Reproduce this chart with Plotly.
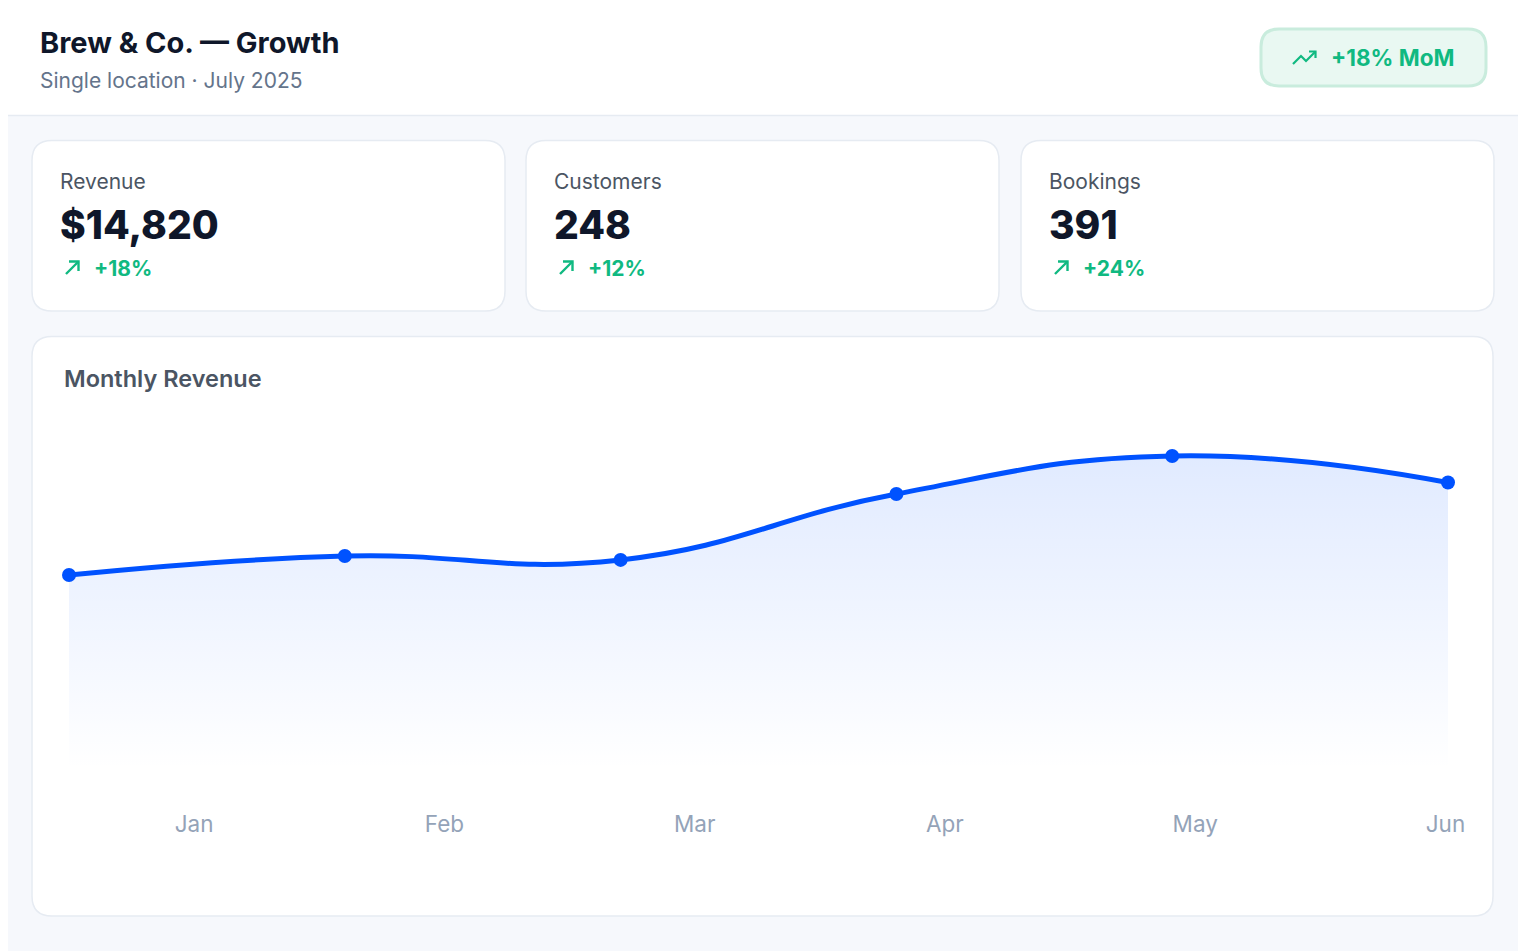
import plotly.graph_objects as go

# data
months = ['Jan', 'Feb', 'Mar', 'Apr', 'May', 'Jun']
revenue = [10050, 11030, 10830, 14230, 16190, 14820]

kpi_labels = ['Revenue', 'Customers', 'Bookings']
kpi_values = ['$14,820', '248', '391']
kpi_changes = ['+18%', '+12%', '+24%']

title = 'Brew & Co. — Growth'
subtitle = 'Single location · July 2025'
badge_text = '+18% MoM'
chart_title = 'Monthly Revenue'

# colours
BLUE = '#0052ff'
GREEN = '#10b981'
INK = '#0f172a'
MUTED = '#64748b'
BORDER = '#e6ebf2'
PAGE_BG = '#f6f8fc'
FONT = 'Inter'

# the page body adds an 8px offset, so layout pixels are shifted back by it
OFF = 8
W, H = 1526, 951
L, R, T, B = 69 - OFF, 78 + OFF, 415 - OFF, 181 + OFF
PW = W - L - R
PH = H - T - B


def px(x):
    return (x - OFF - L) / PW


def py(y):
    return (H - B - (y - OFF)) / PH


def rrect(x0, y0, x1, y1, r):
    # rounded rectangle path in paper coordinates, input in screen pixels
    pts = [
        ('M', [(x0 + r, y0)]),
        ('L', [(x1 - r, y0)]),
        ('Q', [(x1, y0), (x1, y0 + r)]),
        ('L', [(x1, y1 - r)]),
        ('Q', [(x1, y1), (x1 - r, y1)]),
        ('L', [(x0 + r, y1)]),
        ('Q', [(x0, y1), (x0, y1 - r)]),
        ('L', [(x0, y0 + r)]),
        ('Q', [(x0, y0), (x0 + r, y0)]),
    ]
    out = ''
    for cmd, coords in pts:
        out += cmd + ' '.join(f'{px(a):.5f},{py(b):.5f}' for a, b in coords) + ' '
    return out + 'Z'


def polyline(points):
    return 'M' + ' L'.join(f'{px(a):.5f},{py(b):.5f}' for a, b in points)


shapes = []
annotations = []


def card(x0, y0, x1, y1, r=20, fill='white', line=BORDER, lw=1.5):
    shapes.append(dict(type='path', xref='paper', yref='paper', path=rrect(x0, y0, x1, y1, r),
                       fillcolor=fill, line=dict(color=line, width=lw), layer='below'))


def text(x, y, s, size, color, weight=400, anchor='left'):
    annotations.append(dict(xref='paper', yref='paper', x=px(x), y=py(y), text=s,
                            showarrow=False, xanchor=anchor, yanchor='middle',
                            font=dict(family=FONT, size=size, color=color, weight=weight)))


def arrow(points, head, width=2.4):
    for pts in (points, head):
        shapes.append(dict(type='path', xref='paper', yref='paper', path=polyline(pts),
                           line=dict(color=GREEN, width=width)))


# header band
shapes.append(dict(type='rect', xref='paper', yref='paper', x0=px(0), x1=px(W + OFF), y0=py(0), y1=py(115),
                   fillcolor='white', line=dict(width=0), layer='below'))
shapes.append(dict(type='line', xref='paper', yref='paper', x0=px(0), x1=px(W + OFF), y0=py(115.5), y1=py(115.5),
                   line=dict(color=BORDER, width=1.5), layer='below'))
text(38, 42, title, 29, INK, 700)
text(38, 80, subtitle, 21, MUTED, 400)

# MoM badge
card(1261, 29, 1486, 86, r=18, fill='#e9f8f2', line='#c9ecdd', lw=3)
arrow([(1293, 64), (1301, 56), (1306, 61), (1315.5, 51.5)],
      [(1309, 51.5), (1315.5, 51.5), (1315.5, 58)], width=2.2)
text(1329, 57, badge_text, 22.5, GREEN, 700)

# KPI cards
card_x = [32, 526, 1021]
card_w = 473
for i, cx in enumerate(card_x):
    card(cx, 140.5, cx + card_w, 311, r=20)
    text(cx + 26, 181, kpi_labels[i], 21, '#4b5563', 400)
    text(cx + 26, 224, kpi_values[i], 39, INK, 800)
    ax = cx + 34
    arrow([(ax, 274), (ax + 12.5, 261.5)], [(ax + 3, 261.5), (ax + 12.5, 261.5), (ax + 12.5, 271)])
    text(cx + 60, 268, kpi_changes[i], 21, GREEN, 700)

# chart card
card(32, 336.5, 1493, 916, r=20)
text(62, 378, chart_title, 23.5, '#4b5563', 600)

fig = go.Figure()

fig.add_trace(go.Scatter(
    x=months, y=revenue,
    mode='lines+markers',
    line=dict(color=BLUE, width=5, shape='spline', smoothing=1.3),
    marker=dict(color=BLUE, size=14),
    fill='tozeroy',
    fillgradient=dict(type='vertical',
                      colorscale=[[0, 'rgba(0,82,255,0)'], [1, 'rgba(0,82,255,0.12)']]),
    cliponaxis=False,
    hoverinfo='x+y',
    showlegend=False,
))

# label axis (month labels sit on their own evenly spread scale)
fig.add_trace(go.Scatter(
    x=months, y=revenue, xaxis='x2', mode='markers',
    marker=dict(opacity=0), hoverinfo='skip', showlegend=False,
))

fig.update_layout(
    width=W, height=H,
    margin=dict(l=L, r=R, t=T, b=B),
    paper_bgcolor=PAGE_BG,
    plot_bgcolor='rgba(0,0,0,0)',
    font=dict(family=FONT),
    xaxis=dict(type='category', range=[0, 5], showgrid=False, zeroline=False,
               showticklabels=False, showline=False),
    xaxis2=dict(type='category', overlaying='x', side='bottom', range=[-0.5, 5.01],
                showgrid=False, zeroline=False, showline=False,
                tickfont=dict(family=FONT, size=22.5, color='#94a3b8'),
                ticklabelstandoff=38),
    yaxis=dict(range=[0, 18300], visible=False, showgrid=False, zeroline=False),
    shapes=shapes,
    annotations=annotations,
)

fig.write_html("out.html")
